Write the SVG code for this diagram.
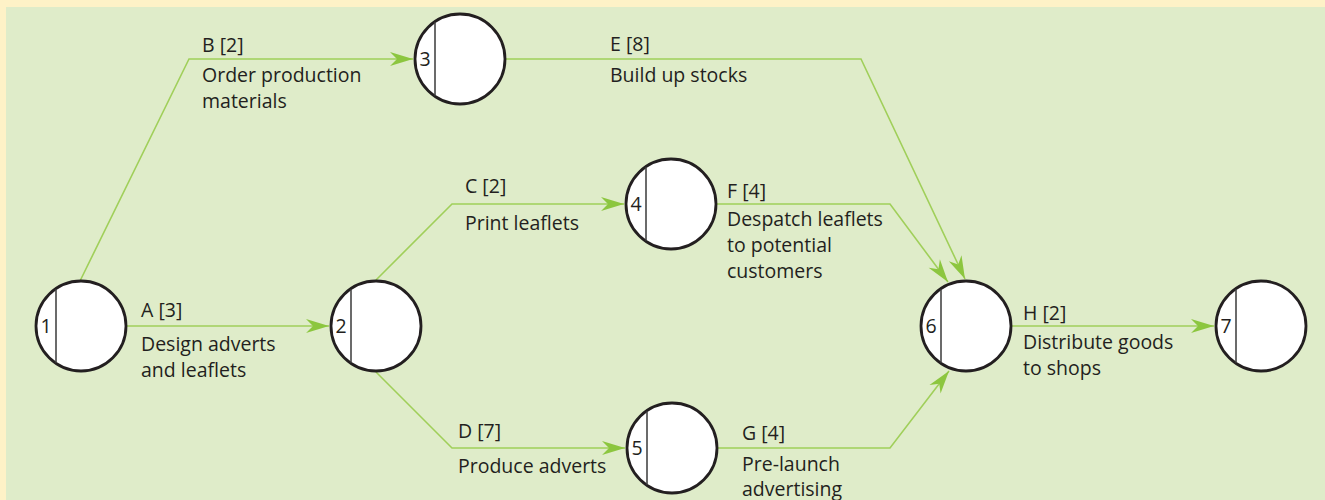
<svg xmlns="http://www.w3.org/2000/svg" width="1325" height="500" viewBox="0 0 1325 500">
<style>
.t{font-family:"Open Sans","Noto Sans","Liberation Sans",sans-serif;font-size:19.5px;fill:#231f20}
.n{font-family:"Open Sans","Noto Sans","Liberation Sans",sans-serif;font-size:19.5px;fill:#231f20;text-anchor:middle}
.c{fill:#ffffff;stroke:#231f20;stroke-width:2.8}
.d{stroke:#3a3a3a;stroke-width:1.5}
.e{fill:none;stroke:#a0cf5a;stroke-width:1.6;stroke-linejoin:miter}
</style>
<defs>
<marker id="ah" markerUnits="userSpaceOnUse" markerWidth="26" markerHeight="16" viewBox="-24 -8 26 16" refX="0" refY="0" orient="auto">
<path d="M0,0 L-23,-7 L-16,0 L-23,7 Z" fill="#8cc63f"/>
</marker>
</defs>
<rect x="0" y="0" width="1325" height="500" fill="#fef2c7"/>
<rect x="6" y="7" width="1319" height="493" fill="#dfecc9"/>
<g id="connectors">
<path class="e" d="M80,281 L189,59 L413,59" marker-end="url(#ah)"/>
<path class="e" d="M506,59 L861,59 L965,279" marker-end="url(#ah)"/>
<path class="e" d="M127,326 L329,326" marker-end="url(#ah)"/>
<path class="e" d="M376,280 L452,204 L624,204" marker-end="url(#ah)"/>
<path class="e" d="M717,204 L890,204 L948,282" marker-end="url(#ah)"/>
<path class="e" d="M376,372 L452,448 L625,448" marker-end="url(#ah)"/>
<path class="e" d="M718,448 L890,448 L949,371" marker-end="url(#ah)"/>
<path class="e" d="M1012,326 L1214,326" marker-end="url(#ah)"/>
</g>
<g id="node1"><circle class="c" cx="81" cy="326" r="45"/><line class="d" x1="56" y1="289" x2="56" y2="363"/><text class="n" x="46" y="333">1</text></g>
<g id="node2"><circle class="c" cx="376" cy="326" r="45"/><line class="d" x1="351" y1="289" x2="351" y2="363"/><text class="n" x="341" y="333">2</text></g>
<g id="node3"><circle class="c" cx="460" cy="59" r="45"/><line class="d" x1="435" y1="22" x2="435" y2="96"/><text class="n" x="425" y="66">3</text></g>
<g id="node4"><circle class="c" cx="671" cy="204" r="45"/><line class="d" x1="646" y1="167" x2="646" y2="241"/><text class="n" x="636" y="211">4</text></g>
<g id="node5"><circle class="c" cx="672" cy="448" r="45"/><line class="d" x1="647" y1="411" x2="647" y2="485"/><text class="n" x="637" y="455">5</text></g>
<g id="node6"><circle class="c" cx="966" cy="326" r="45"/><line class="d" x1="941" y1="289" x2="941" y2="363"/><text class="n" x="931" y="333">6</text></g>
<g id="node7"><circle class="c" cx="1261" cy="326" r="45"/><line class="d" x1="1236" y1="289" x2="1236" y2="363"/><text class="n" x="1226" y="333">7</text></g>
<g id="labels">
<text class="t" x="202" y="52">B [2]</text>
<text class="t" x="202" y="82">Order production</text>
<text class="t" x="202" y="108">materials</text>
<text class="t" x="610" y="51">E [8]</text>
<text class="t" x="610" y="82">Build up stocks</text>
<text class="t" x="465" y="193">C [2]</text>
<text class="t" x="465" y="230">Print leaflets</text>
<text class="t" x="727" y="198">F [4]</text>
<text class="t" x="727" y="226">Despatch leaflets</text>
<text class="t" x="727" y="252">to potential</text>
<text class="t" x="727" y="278">customers</text>
<text class="t" x="141" y="317">A [3]</text>
<text class="t" x="141" y="351">Design adverts</text>
<text class="t" x="141" y="377">and leaflets</text>
<text class="t" x="1023" y="320">H [2]</text>
<text class="t" x="1023" y="349">Distribute goods</text>
<text class="t" x="1023" y="375">to shops</text>
<text class="t" x="458" y="438">D [7]</text>
<text class="t" x="458" y="473">Produce adverts</text>
<text class="t" x="742" y="440">G [4]</text>
<text class="t" x="742" y="471">Pre-launch</text>
<text class="t" x="742" y="496">advertising</text>
</g>
</svg>
